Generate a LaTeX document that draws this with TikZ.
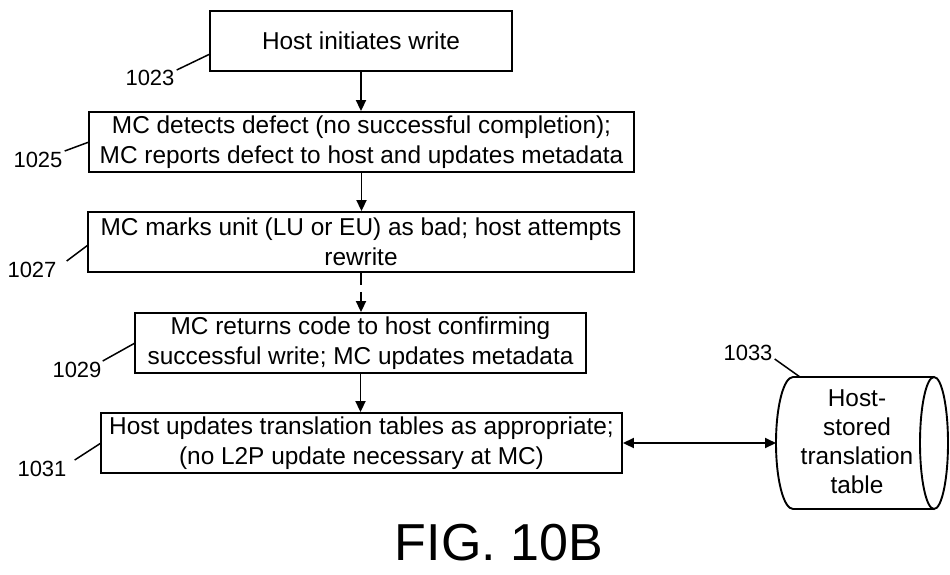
\documentclass[tikz,border=0pt]{standalone}
\usepackage{fontspec}
\setmainfont{Liberation Sans}
\usetikzlibrary{arrows.meta}
\begin{document}
\begin{tikzpicture}[x=1pt,y=-1pt,
  box/.style={draw, line width=1.9pt, align=center, inner sep=0pt, font=\fontsize{24.4}{30}\selectfont},
  lbl/.style={inner sep=0pt, font=\fontsize{22}{24}\selectfont},
  lead/.style={line width=1.5pt},
  flow/.style={line width=1.9pt, -{Triangle[length=11pt,width=10pt]}},
  dflow/.style={line width=1.9pt, dash pattern=on 12pt off 7pt, -{Triangle[length=11pt,width=10pt]}},
  both/.style={line width=1.9pt, {Triangle[length=11pt,width=10pt]}-{Triangle[length=11pt,width=10pt]}},
  cylline/.style={line width=1.9pt}]
\useasboundingbox (0,0) rectangle (950,574);
\node[box, minimum width=302pt, minimum height=60pt] (b1) at (361,41) {Host initiates write};
\node[box, minimum width=545pt, minimum height=60pt] (b2) at (361.5,142) {MC detects defect (no successful completion);\\MC reports defect to host and updates metadata};
\node[box, minimum width=546pt, minimum height=60pt] (b3) at (361,242) {MC marks unit (LU or EU) as bad; host attempts\\rewrite};
\node[box, minimum width=451pt, minimum height=60pt] (b4) at (360.5,343) {MC returns code to host confirming\\successful write; MC updates metadata};
\node[box, minimum width=521pt, minimum height=60pt] (b5) at (361.5,443) {Host updates translation tables as appropriate;\\(no L2P update necessary at MC)};
% cylinder
\draw[cylline] (934,377) -- (793,377) arc[start angle=90,end angle=270,x radius=17pt,y radius=66pt] -- (934,509);
\draw[cylline] (934,443) ellipse [x radius=14pt, y radius=66pt];
\coordinate (cylL) at (776,443);
\node[align=center, inner sep=0pt, font=\fontsize{24.4}{29}\selectfont] (cyl) at (857,442) {Host-\\stored\\translation\\table};
% labels
\node[lbl] (l1) at (150,78) {1023};
\node[lbl] (l2) at (38,160) {1025};
\node[lbl] (l3) at (32,270) {1027};
\node[lbl] (l4) at (77,370) {1029};
\node[lbl] (l5) at (42,469) {1031};
\node[lbl] (l6) at (748,353) {1033};
\coordinate (c1) at (210,54);
\coordinate (c2) at (89,142);
\coordinate (c3) at (88,245);
\coordinate (c4) at (135,343);
\coordinate (c5) at (101,443);
\coordinate (c6) at (800,377);
\draw[lead] ([xshift=2pt]l1.north east) -- (c1);
\draw[lead] ([xshift=2pt,yshift=1pt]l2.north east) -- (c2);
\draw[lead] ([xshift=10pt,yshift=1pt]l3.north east) -- (c3);
\draw[lead] ([xshift=1pt,yshift=1pt]l4.north east) -- (c4);
\draw[lead] ([xshift=8pt,yshift=1pt]l5.north east) -- (c5);
\draw[lead] ([xshift=2pt,yshift=2pt]l6.south east) -- (c6);
% connectors
\draw[flow] (b1.south) -- (b1.south |- b2.north);
\draw[flow] (b2.south) -- (b2.south |- b3.north);
\draw[dflow] (b3.south) -- (b3.south |- b4.north);
\draw[flow] (b4.south) -- (b4.south |- b5.north);
\draw[both] (b5.east) -- (cylL);
\node[inner sep=0pt, font=\fontsize{52}{60}\selectfont] (fig) at (499,543) {FIG. 10B};
\end{tikzpicture}
\end{document}
